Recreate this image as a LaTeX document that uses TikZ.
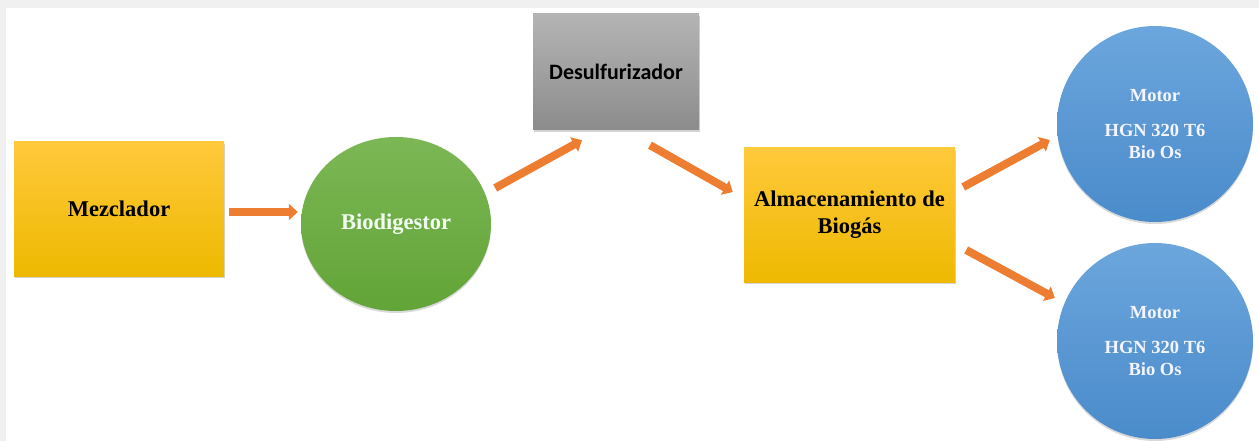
\documentclass[tikz,border=0pt]{standalone}
\usepackage{fontspec}
\setmainfont{Liberation Serif}
\newfontfamily\calib{Carlito}
\usetikzlibrary{arrows.meta,shapes.geometric,shadows}

\definecolor{flowor}{HTML}{ED7D31}
\definecolor{ylwtop}{HTML}{FFC93C}
\definecolor{ylwmid}{HTML}{FFC000}
\definecolor{ylwbot}{HTML}{EEB900}
\definecolor{grytop}{HTML}{B4B4B4}
\definecolor{grybot}{HTML}{8C8C8C}
\definecolor{grntop}{HTML}{7CB755}
\definecolor{grnbot}{HTML}{62A437}
\definecolor{blutop}{HTML}{6CA6DD}
\definecolor{blubot}{HTML}{4A8BCB}
\definecolor{frame}{HTML}{F0F0F0}

\tikzset{
  box/.style={rectangle, inner sep=0pt, align=center,
    drop shadow={opacity=0.35, shadow xshift=1pt, shadow yshift=-2pt}},
  yellowbox/.style={box, top color=ylwtop, middle color=ylwmid, bottom color=ylwbot,
    font=\fontsize{22.5}{27}\selectfont\bfseries, text=black},
  graybox/.style={box, top color=grytop, bottom color=grybot,
    font=\calib\fontsize{22}{26}\selectfont\bfseries, text=black},
  disc/.style={ellipse, inner sep=0pt, align=center,
    drop shadow={opacity=0.3, shadow xshift=0pt, shadow yshift=-2pt}},
  greendisc/.style={disc, top color=grntop, bottom color=grnbot,
    text=white!95!green, font=\fontsize{22.5}{26}\selectfont\bfseries},
  bluedisc/.style={disc, top color=blutop, bottom color=blubot,
    minimum width=196pt, minimum height=196pt,
    text=white!96!blue, font=\fontsize{18.5}{22}\selectfont\bfseries},
  flow/.style={draw=flowor, line width=8pt,
    -{Triangle[length=9pt,width=16pt]}}
}

\begin{document}
\begin{tikzpicture}[x=1pt, y=-1pt]
  \useasboundingbox (0,0) rectangle (1259,441);
  % window frame strips
  \fill[frame] (0,0) rectangle (1259,8);
  \fill[frame] (0,0) rectangle (6,441);

  % process blocks
  \node[yellowbox, minimum width=210pt, minimum height=134pt] (mez) at (119,209) {Mezclador};
  \node[greendisc, minimum width=190pt, minimum height=174pt] (bio) at (396,224) {Biodigestor};
  \node[graybox, minimum width=166pt, minimum height=116pt] (des) at (616,72) {Desulfurizador};
  \node[yellowbox, minimum width=211pt, minimum height=134pt] (alm) at (849.5,215)
    {Almacenamiento de\\Biog\'as};
  \node[bluedisc] (m1) at (1155,124) {Motor\\[13pt]HGN 320 T6\\Bio Os};
  \node[bluedisc] (m2) at (1155,341) {Motor\\[13pt]HGN 320 T6\\Bio Os};

  % gas flow
  \draw[flow] ([shift={(5,3)}]mez.east) -- ([shift={(-3,-12)}]bio.west);
  \draw[flow] ([shift={(4,-36)}]bio.east) -- ([shift={(-34,10)}]des.south);
  \draw[flow] ([shift={(34,15)}]des.south) -- ([shift={(-11,-23)}]alm.west);
  \draw[flow] ([shift={(8,-28)}]alm.east) -- ([shift={(-7,16)}]m1.west);
  \draw[flow] ([shift={(11,35)}]alm.east) -- ([shift={(-2,-43)}]m2.west);
\end{tikzpicture}
\end{document}
